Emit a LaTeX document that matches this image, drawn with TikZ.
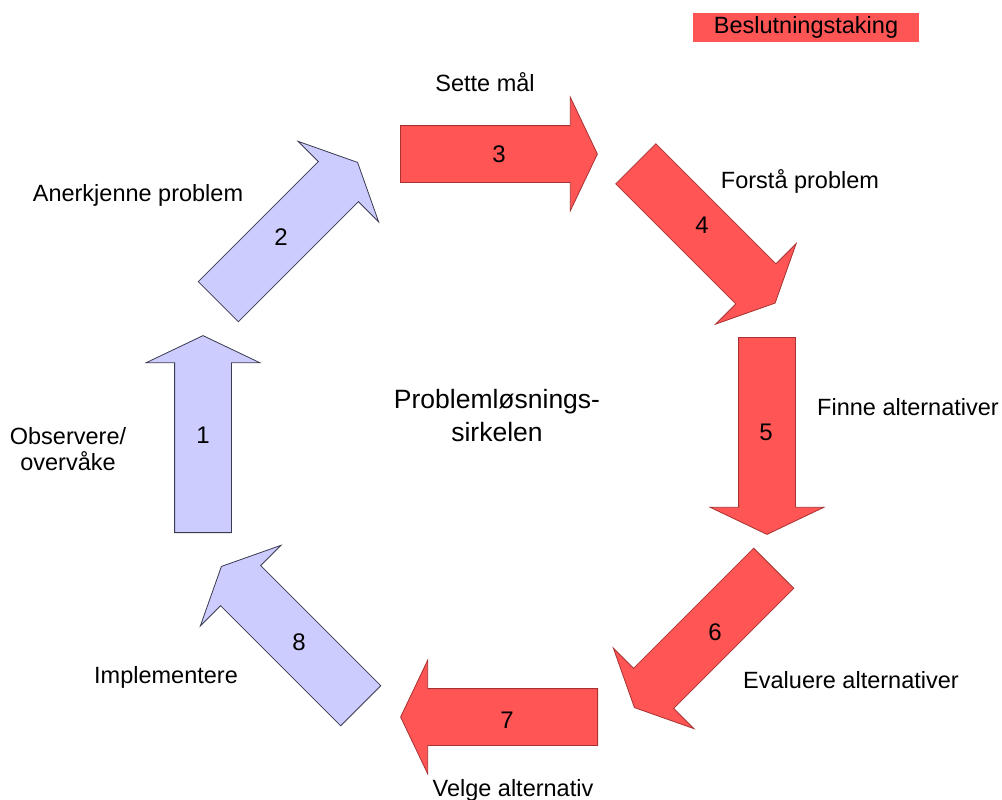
\documentclass[tikz,border=0pt]{standalone}
\usepackage{fontspec}
\setmainfont{Liberation Sans}
\usetikzlibrary{shapes.arrows,positioning}
\definecolor{stepred}{HTML}{FF5555}
\definecolor{stepredline}{HTML}{A83232}
\definecolor{steplav}{HTML}{CCCCFF}
\definecolor{steplavline}{HTML}{3A3A50}

\begin{document}
\begin{tikzpicture}[x=1pt, y=-1pt,
    stepar/.style={single arrow, anchor=tail, line width=0.8pt,
        inner xsep=0pt, inner ysep=28pt,
        minimum height=197pt, minimum width=113pt,
        single arrow head extend=28.5pt, single arrow tip angle=129},
    hot/.style={stepar, fill=stepred, draw=stepredline},
    cold/.style={stepar, fill=steplav, draw=steplavline},
    num/.style={font=\fontsize{24}{28}\selectfont},
    lbl/.style={font=\fontsize{23.5}{26}\selectfont, align=center}
]
    \useasboundingbox (0,0) rectangle (1002,800);

    % the eight steps of the circle
    \node[cold, rotate=90]   (a1) at (203,533) {};
    \node[cold, rotate=45]   (a2) at (218,302) {};
    \node[hot,  rotate=0]    (a3) at (400,154) {};
    \node[hot,  rotate=-45]  (a4) at (635.5,163.5) {};
    \node[hot,  rotate=-90]  (a5) at (767,337) {};
    \node[hot,  rotate=-135] (a6) at (774,568) {};
    \node[hot,  rotate=180]  (a7) at (598,717) {};
    \node[cold, rotate=135]  (a8) at (361,706) {};

    \node[num] (n1) at (203,435) {1};
    \node[num] (n2) at (281,237) {2};
    \node[num] (n3) at (499,154) {3};
    \node[num] (n4) at (702,225) {4};
    \node[num] (n5) at (766,432) {5};
    \node[num] (n6) at (715,632) {6};
    \node[num] (n7) at (507,720) {7};
    \node[num] (n8) at (299,642) {8};

    \node[lbl] (l1) at (68,449) {Observere/\\overvåke};
    \node[lbl] (l2) at (138,195) {Anerkjenne problem};
    \node[lbl] (l3) at (485,82) {Sette mål};
    \node[lbl] (l4) at (800,181) {Forstå problem};
    \node[lbl] (l5) at (908,407) {Finne alternativer};
    \node[lbl] (l6) at (851,680) {Evaluere alternativer};
    \node[lbl] (l7) at (513,790) {Velge alternativ};
    \node[lbl] (l8) at (166,677) {Implementere};

    \node[font=\fontsize{26.5}{33}\selectfont, align=center] (title) at (497,416) {Problemløsnings-\\sirkelen};

    \node[lbl, fill=stepred, minimum width=226pt, minimum height=29pt] (legend) at (806,27.5) {Beslutningstaking};
\end{tikzpicture}
\end{document}
